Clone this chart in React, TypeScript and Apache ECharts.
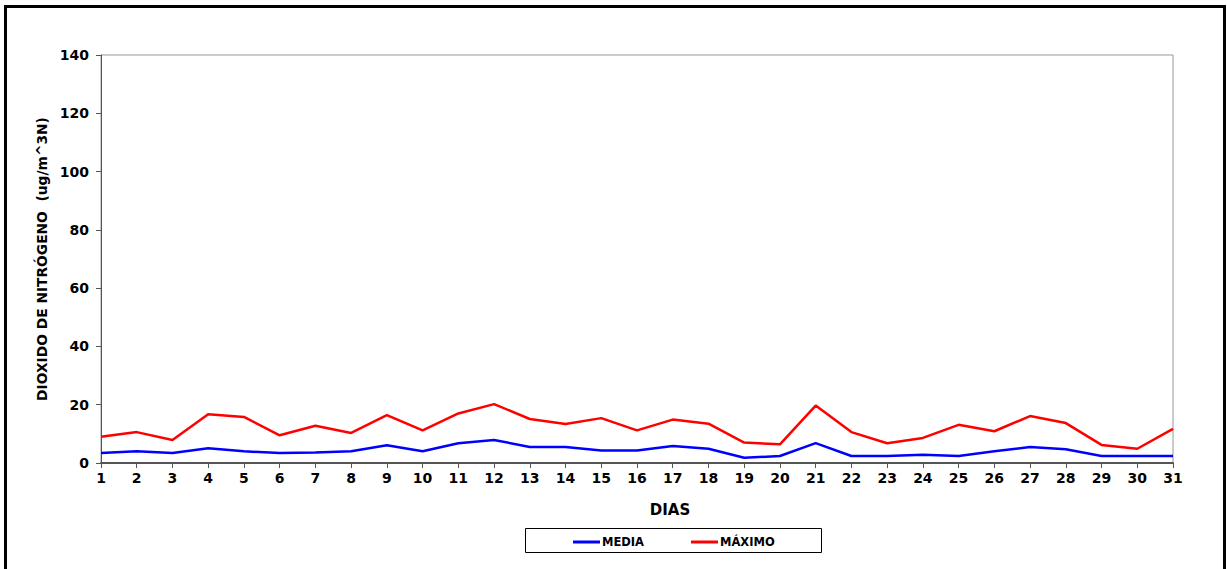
import React, { useEffect, useRef } from "react";
import * as echarts from "echarts";

const days = Array.from({ length: 31 }, (_, i) => String(i + 1));
const media = [3.4, 4.0, 3.4, 5.1, 4.0, 3.4, 3.6, 4.0, 6.1, 4.0, 6.8, 7.9, 5.5, 5.5, 4.3, 4.3, 5.8, 4.9, 1.8, 2.4, 6.8, 2.4, 2.4, 2.8, 2.4, 4.0, 5.5, 4.7, 2.4, 2.4, 2.4];
const maximo = [9.0, 10.6, 7.9, 16.7, 15.8, 9.5, 12.8, 10.3, 16.4, 11.2, 17.0, 20.2, 15.1, 13.4, 15.4, 11.2, 14.9, 13.5, 7.0, 6.4, 19.7, 10.6, 6.8, 8.6, 13.1, 10.9, 16.1, 13.7, 6.2, 4.9, 11.7];
const yTicks = { min: 0, max: 140, interval: 20 };
const seriesNames = ["MEDIA", "MÁXIMO"];
const yTitle = "DIOXIDO DE NITRÓGENO  (ug/m^3N)";
const xTitle = "DIAS";

const FONT = "DejaVu Sans";

export default function App() {
  const ref = useRef<HTMLDivElement>(null);
  useEffect(() => {
    const chart = echarts.init(ref.current!, null, { renderer: "svg" });
    chart.setOption({
      animation: false,
      backgroundColor: "#ffffff",
      textStyle: { fontFamily: FONT, color: "#000" },
      grid: {
        left: 101,
        top: 55,
        width: 1072,
        height: 408,
        show: true,
        borderColor: "#999999",
        borderWidth: 1,
        backgroundColor: "transparent",
      },
      xAxis: {
        type: "category",
        data: days,
        boundaryGap: false,
        axisLine: { lineStyle: { color: "#555", width: 2 } },
        axisTick: { show: true, length: 5, alignWithLabel: true, lineStyle: { color: "#555", width: 1 } },
        axisLabel: { color: "#000", fontWeight: "bold", fontSize: 14, fontFamily: FONT, margin: 8, interval: 0 },
        splitLine: { show: false },
      },
      yAxis: {
        type: "value",
        min: yTicks.min,
        max: yTicks.max,
        interval: yTicks.interval,
        name: yTitle,
        nameLocation: "middle",
        nameGap: 48,
        nameTextStyle: { color: "#000", fontWeight: "bold", fontSize: 13.8, fontFamily: FONT },
        axisLine: { show: true, lineStyle: { color: "#555", width: 1 } },
        axisTick: { show: true, length: 5, lineStyle: { color: "#555", width: 1 } },
        axisLabel: { color: "#000", fontWeight: "bold", fontSize: 14, fontFamily: FONT, margin: 12 },
        splitLine: { show: false },
      },
      legend: {
        data: seriesNames,
        left: 568,
        top: 531,
        icon: "rect",
        itemWidth: 27,
        itemHeight: 3,
        itemGap: 47,
        textStyle: { color: "#000", fontWeight: "bold", fontSize: 11.5, fontFamily: FONT, padding: [0, 0, 0, -3] },
      },
      graphic: [
        {
          type: "rect",
          shape: { x: 5.5, y: 6.5, width: 1219, height: 620 },
          style: { fill: "none", stroke: "#000", lineWidth: 3 },
          silent: true,
        },
        {
          type: "rect",
          shape: { x: 525.5, y: 528.5, width: 296, height: 24 },
          style: { fill: "none", stroke: "#000", lineWidth: 1 },
          silent: true,
        },
        {
          type: "text",
          x: 670,
          y: 510,
          style: {
            text: xTitle,
            fill: "#000",
            font: `bold 15px "${FONT}"`,
            align: "center",
            verticalAlign: "middle",
          },
          silent: true,
        },
      ],
      series: [
        {
          name: seriesNames[0],
          type: "line",
          data: media,
          symbol: "none",
          lineStyle: { color: "#0000ff", width: 2.5 },
          itemStyle: { color: "#0000ff" },
        },
        {
          name: seriesNames[1],
          type: "line",
          data: maximo,
          symbol: "none",
          lineStyle: { color: "#ff0000", width: 2.5 },
          itemStyle: { color: "#ff0000" },
        },
      ],
    });
    return () => chart.dispose();
  }, []);
  return (
    <div
      ref={ref}
      style={{ position: "fixed", left: 0, top: 0, width: 1227, height: 569, background: "#fff" }}
    />
  );
}
